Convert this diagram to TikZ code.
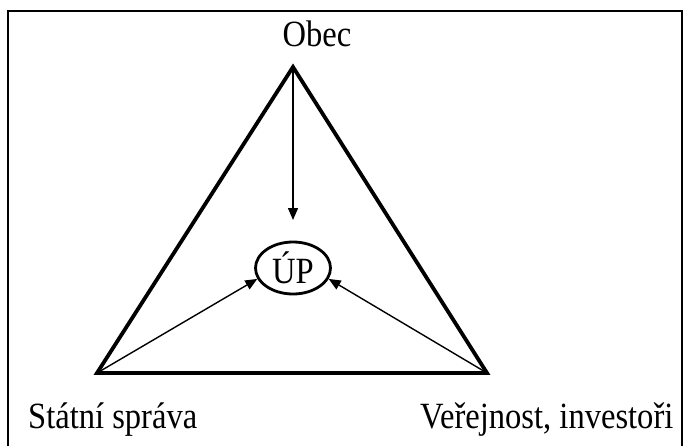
\documentclass[tikz,border=0pt]{standalone}
\usepackage{fontspec}
\setmainfont{Liberation Serif}[FakeStretch=0.88]
\usetikzlibrary{shapes.geometric,arrows.meta}
\tikzset{
  lbl/.style={inner sep=0pt, font=\fontsize{37}{44}\selectfont},
  tri/.style={line width=3.8pt, line join=miter},
  arr/.style={line width=1.4pt, -{Triangle[length=12pt,width=10pt]}},
  frame/.style={line width=2.2pt}
}
\begin{document}
\begin{tikzpicture}[x=1pt,y=-1pt]
\useasboundingbox (0,0) rectangle (686,445);
\draw[frame] (8,446) -- (8,11) -- (682,11) -- (682,446);
\coordinate (apex) at (293,67);
\coordinate (bl) at (97,373);
\coordinate (br) at (487,373);
\coordinate (uptop) at (293,220);
\draw[tri] (apex) -- (bl) -- (br) -- cycle;
\node[lbl, draw, ellipse, line width=2.8pt, minimum width=75pt, minimum height=52pt] (up) at (293,268) {ÚP};
\draw[arr] (apex) -- (uptop);
\draw[arr] (bl) -- (up.197);
\draw[arr] (br) -- (up.-17);
\node[lbl, anchor=base] (obec) at (317,46) {Obec};
\node[lbl, anchor=base west] (stat) at (28,428) {Státní správa};
\node[lbl, anchor=base west] (ver) at (420,428) {Veřejnost, investoři};
\end{tikzpicture}
\end{document}
